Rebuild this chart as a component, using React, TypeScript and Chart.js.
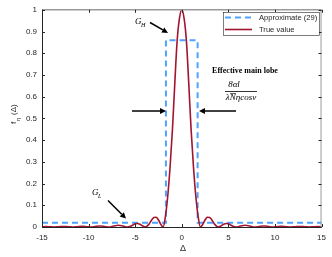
import React, { useEffect, useRef } from "react";
import { Chart, registerables } from "chart.js";

Chart.register(...registerables);

const deltaTrue = [
  -15, -14.6, -14.15, -13.7, -13.2, -12.7, -12.2, -11.7, -11.2, -10.7, -10.2, -9.75, -9.3, -8.8, -8.3, -7.8, -7.3, -6.8, -6.3,
  -5.85, -5.5, -5.25, -5, -4.75, -4.5, -4.25, -3.9, -3.5, -3.25, -3, -2.75, -2.5, -2.25, -2, -1.75, -1.5, -1.25,
  -1, -0.75, -0.5, -0.25, 0, 0.25, 0.5, 0.75, 1, 1.25, 1.5, 1.75, 2, 2.25, 2.5, 2.75, 3, 3.25, 3.5, 3.9, 4.25,
  4.5, 4.75, 5, 5.25, 5.5, 5.85, 6.3, 6.8, 7.3, 7.8, 8.3, 8.8, 9.3, 9.75, 10.2, 10.7, 11.2, 11.7, 12.2, 12.7, 13.2,
  13.7, 14.15, 14.6, 15,
];
const fTrue = [
  0.001, 0.0018, 0.001, 0, 0.0012, 0.0022, 0.0012, 0, 0.0015, 0.003, 0.0015, 0, 0.0025, 0.0045, 0.0025, 0, 0.0045, 0.008, 0.0045,
  0, 0.0034, 0.009, 0.0147, 0.0164, 0.013, 0.006, 0, 0.014, 0.031, 0.044, 0.045, 0.032, 0.012, 0, 0.05, 0.145, 0.28,
  0.45, 0.66, 0.855, 0.96, 1, 0.96, 0.855, 0.66, 0.45, 0.28, 0.145, 0.05, 0, 0.012, 0.032, 0.045, 0.044, 0.031, 0.014, 0, 0.006,
  0.013, 0.0164, 0.0147, 0.009, 0.0034, 0, 0.0045, 0.008, 0.0045, 0, 0.0025, 0.0045, 0.0025, 0, 0.0015, 0.003, 0.0015, 0, 0.0012, 0.0022, 0.0012,
  0, 0.001, 0.0018, 0.001,
];

const deltaApprox = [-15, -1.7, -1.7, 1.7, 1.7, 15];
const fApprox = [0.02, 0.02, 0.86, 0.86, 0.02, 0.02];

const xTicks = [-15, -10, -5, 0, 5, 10, 15];
const yTicks = [0, 0.1, 0.2, 0.3, 0.4, 0.5, 0.6, 0.7, 0.8, 0.9, 1];

const legendLabels = ["Approximate (29)", "True value"];
const RED = "#A2142F";
const BLUE = "#4DA3FF";
const AX = "#262626";

function arrow(ctx: CanvasRenderingContext2D, x1: number, y1: number, x2: number, y2: number) {
  const ang = Math.atan2(y2 - y1, x2 - x1);
  const hl = 6, hw = 3;
  const bx = x2 - hl * Math.cos(ang), by = y2 - hl * Math.sin(ang);
  ctx.save();
  ctx.strokeStyle = "#000";
  ctx.fillStyle = "#000";
  ctx.lineWidth = 1.5;
  ctx.beginPath();
  ctx.moveTo(x1, y1);
  ctx.lineTo(bx, by);
  ctx.stroke();
  ctx.beginPath();
  ctx.moveTo(x2, y2);
  ctx.lineTo(bx + hw * Math.sin(ang), by - hw * Math.cos(ang));
  ctx.lineTo(bx - hw * Math.sin(ang), by + hw * Math.cos(ang));
  ctx.closePath();
  ctx.fill();
  ctx.restore();
}

const decor = {
  id: "decor",
  afterDraw(chart: any) {
    const ctx: CanvasRenderingContext2D = chart.ctx;
    const { left, right, top, bottom } = chart.chartArea;
    const xs = chart.scales.x, ys = chart.scales.y;
    ctx.save();
    // box
    ctx.lineWidth = 1.5;
    ctx.strokeStyle = "#9a9a9a";
    ctx.beginPath();
    ctx.moveTo(left, top);
    ctx.lineTo(right, top);
    ctx.stroke();
    ctx.lineWidth = 1;
    ctx.beginPath();
    ctx.moveTo(right - 0.5, top);
    ctx.lineTo(right - 0.5, bottom);
    ctx.stroke();
    ctx.strokeStyle = AX;
    ctx.beginPath();
    ctx.moveTo(left + 0.5, top);
    ctx.lineTo(left + 0.5, bottom);
    ctx.moveTo(left, bottom + 0.5);
    ctx.lineTo(right, bottom + 0.5);
    ctx.stroke();
    // inward ticks
    ctx.beginPath();
    xTicks.forEach((v) => {
      const px = Math.round(xs.getPixelForValue(v)) + 0.5;
      ctx.moveTo(px, bottom);
      ctx.lineTo(px, bottom - 3);
      ctx.moveTo(px, top);
      ctx.lineTo(px, top + 3);
    });
    yTicks.forEach((v) => {
      const py = Math.round(ys.getPixelForValue(v)) + 0.5;
      ctx.moveTo(left, py);
      ctx.lineTo(left + 3, py);
      ctx.moveTo(right, py);
      ctx.lineTo(right - 3, py);
    });
    ctx.stroke();

    // legend
    ctx.fillStyle = "#fff";
    ctx.fillRect(223, 12, 96, 23);
    ctx.strokeStyle = AX;
    ctx.lineWidth = 0.6;
    ctx.strokeRect(223.5, 12.5, 96, 23);
    ctx.lineWidth = 2;
    ctx.strokeStyle = BLUE;
    ctx.setLineDash([6, 4]);
    ctx.beginPath();
    ctx.moveTo(225, 17.5);
    ctx.lineTo(252, 17.5);
    ctx.stroke();
    ctx.setLineDash([]);
    ctx.strokeStyle = RED;
    ctx.lineWidth = 1.6;
    ctx.beginPath();
    ctx.moveTo(225, 29.5);
    ctx.lineTo(252, 29.5);
    ctx.stroke();
    ctx.fillStyle = AX;
    ctx.font = "7.6px 'Liberation Sans', Arial, sans-serif";
    ctx.textBaseline = "middle";
    ctx.textAlign = "left";
    ctx.fillText(legendLabels[0], 259, 18);
    ctx.fillText(legendLabels[1], 259, 30);

    // axis labels
    ctx.fillStyle = AX;
    ctx.font = "9px 'Liberation Sans', Arial, sans-serif";
    ctx.textAlign = "center";
    ctx.fillText("Δ", 183, 249);
    ctx.save();
    ctx.translate(14, 113);
    ctx.rotate(-Math.PI / 2);
    ctx.textAlign = "left";
    ctx.font = "8px 'Liberation Sans', Arial, sans-serif";
    ctx.fillText("f", -11, 0);
    ctx.font = "6px 'Liberation Sans', Arial, sans-serif";
    ctx.fillText("η", -8, 4);
    ctx.font = "8px 'Liberation Sans', Arial, sans-serif";
    ctx.fillText("(Δ)", -2, 0);
    ctx.restore();

    // annotations
    ctx.fillStyle = "#000";
    ctx.font = "italic 9px 'Liberation Serif', 'Times New Roman', serif";
    ctx.textAlign = "left";
    ctx.fillText("G", 135, 22);
    ctx.fillText("G", 92, 193);
    ctx.font = "italic 6px 'Liberation Serif', 'Times New Roman', serif";
    ctx.fillText("H", 141, 25);
    ctx.fillText("L", 98, 196);

    ctx.font = "bold 8px 'Liberation Serif', 'Times New Roman', serif";
    ctx.textAlign = "center";
    ctx.fillText("Effective main lobe", 245, 71);
    ctx.font = "italic 9px 'Liberation Serif', 'Times New Roman', serif";
    ctx.fillText("8αl", 234, 85);
    ctx.fillText("λNηcosν", 241, 98);
    // bar over N
    ctx.lineWidth = 0.6;
    ctx.strokeStyle = "#000";
    ctx.beginPath();
    ctx.moveTo(230, 93.5);
    ctx.lineTo(236, 93.5);
    ctx.stroke();
    ctx.lineWidth = 0.8;
    ctx.beginPath();
    ctx.moveTo(225, 91.5);
    ctx.lineTo(257, 91.5);
    ctx.stroke();

    arrow(ctx, 150, 22.5, 168, 33);
    arrow(ctx, 108, 200.5, 126, 218.5);
    arrow(ctx, 132, 111, 166, 111);
    arrow(ctx, 236, 111, 199, 111);
    ctx.restore();
  },
};

const tickFmt = (v: any) => String(+Number(v).toFixed(1));

export default function App() {
  const ref = useRef<HTMLCanvasElement>(null);
  useEffect(() => {
    document.body.style.margin = "0";
    const chart = new Chart(ref.current!, {
      type: "scatter",
      data: {
        datasets: [
          {
            label: legendLabels[1],
            data: deltaTrue.map((x, i) => ({ x, y: fTrue[i] })),
            showLine: true,
            borderColor: RED,
            backgroundColor: RED,
            borderWidth: 1.6,
            pointRadius: 0,
            cubicInterpolationMode: "monotone",
            clip: false as any,
          },
          {
            label: legendLabels[0],
            data: deltaApprox.map((x, i) => ({ x, y: fApprox[i] })),
            showLine: true,
            borderColor: BLUE,
            backgroundColor: BLUE,
            borderWidth: 2,
            borderDash: [6, 4],
            pointRadius: 0,
            tension: 0,
            clip: false as any,
          },
        ],
      },
      options: {
        responsive: false,
        animation: false,
        layout: { padding: { left: 0, right: 9, top: 5, bottom: 0 } },
        plugins: { legend: { display: false }, tooltip: { enabled: false } },
        scales: {
          x: {
            type: "linear",
            min: -15,
            max: 15,
            afterBuildTicks: (s: any) => { s.ticks = xTicks.map((v) => ({ value: v })); },
            afterFit: (s: any) => { s.height = 30; },
            ticks: { color: AX, font: { size: 8, family: "'Liberation Sans', Arial, sans-serif" }, padding: 6, maxRotation: 0, callback: tickFmt },
            grid: { display: false, drawTicks: false },
            border: { display: false },
          },
          y: {
            type: "linear",
            min: 0,
            max: 1,
            afterBuildTicks: (s: any) => { s.ticks = yTicks.map((v) => ({ value: v })); },
            afterFit: (s: any) => { s.width = 42; },
            ticks: { color: AX, font: { size: 8, family: "'Liberation Sans', Arial, sans-serif" }, padding: 5, callback: tickFmt },
            grid: { display: false, drawTicks: false },
            border: { display: false },
          },
        },
      },
      plugins: [decor],
    });
    return () => chart.destroy();
  }, []);
  return <canvas ref={ref} width={332} height={257} style={{ display: "block" }} />;
}
